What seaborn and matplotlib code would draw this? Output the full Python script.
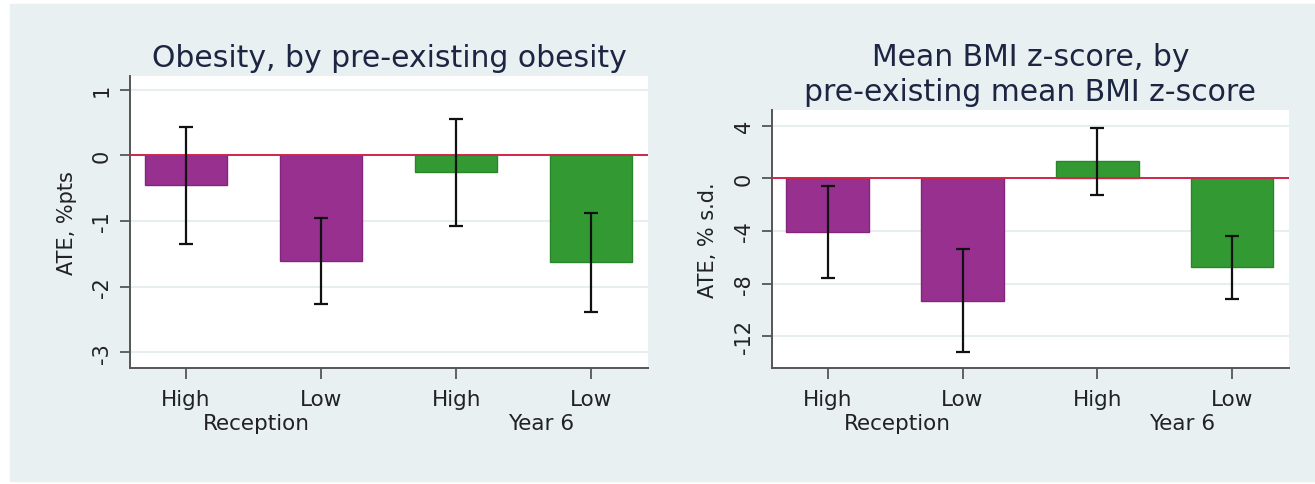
import pandas as pd
import numpy as np
import matplotlib
matplotlib.use("Agg")
import matplotlib.pyplot as plt
import seaborn as sns
from matplotlib.patches import Rectangle

#%% Datos
categorias = ["High", "Low", "High", "Low"]
grupos = ["Reception", "Year 6"]
colores = ["#97308f", "#97308f", "#339933", "#339933"]

# Obesidad (%pts)
obesidad = [-0.45, -1.61, -0.25, -1.63]
obesidad_lo = [-1.35, -2.26, -1.07, -2.39]
obesidad_hi = [0.43, -0.95, 0.55, -0.88]
obesidad_ticks = [1, 0, -1, -2, -3]

# Media BMI z-score (% s.d.)
bmi = [-4.1, -9.3, 1.32, -6.76]
bmi_lo = [-7.6, -13.2, -1.24, -9.14]
bmi_hi = [-0.55, -5.34, 3.87, -4.4]
bmi_ticks = [4, 0, -4, -8, -12]

titulo1 = "Obesity, by pre-existing obesity"
titulo2 = "Mean BMI z-score, by\npre-existing mean BMI z-score"
ylabel1 = "ATE, %pts"
ylabel2 = "ATE, % s.d."

fondo = "#e8f0f2"
texto = "#1c2541"

sns.set_style("white")
plt.rcParams['font.family'] = ['DejaVu Sans']


def panel(ax, valores, lo, hi, ticks, ylim, titulo, ylabel):
    df = pd.DataFrame({"pos": [0, 1, 2, 3], "valor": valores})
    sns.barplot(data=df, x="pos", y="valor", hue="pos", palette=colores,
                legend=False, width=0.61, ax=ax, errorbar=None, saturation=1,
                edgecolor="#7a2a75", linewidth=1, zorder=3)
    # los bordes de las barras verdes en un verde mas oscuro
    for i, p in enumerate(ax.patches):
        p.set_edgecolor("#82267c" if i < 2 else "#2a852a")

    v = np.array(valores)
    yerr = [v - np.array(lo), np.array(hi) - v]
    ax.errorbar(np.arange(4), v, yerr=yerr, fmt="none", ecolor="#111111",
                elinewidth=1.6, capsize=5, capthick=1.6, zorder=5)

    ax.axhline(0, color="#d2254a", lw=1.4, zorder=4)
    ax.set_facecolor("white")
    ax.set_ylim(ylim)
    ax.set_xlim(-0.415, 3.42)
    ax.set_yticks(ticks)
    ax.set_yticklabels([str(t) for t in ticks], rotation=90, va="center",
                       fontsize=15, color="#222222")
    ax.set_xticks(range(4))
    ax.set_xticklabels(categorias, fontsize=15.5, color="#222222")
    ax.tick_params(axis="x", length=8, width=1.3, color="#555555", pad=7,
                   direction="out", bottom=True)
    ax.tick_params(axis="y", length=7, width=1.3, color="#555555", pad=6,
                   direction="out", left=True)
    for t in ticks:
        ax.axhline(t, color="#e6eef0", lw=1.5, zorder=1)

    for s in ["top", "right"]:
        ax.spines[s].set_visible(False)
    for s in ["left", "bottom"]:
        ax.spines[s].set_color("#555555")
        ax.spines[s].set_linewidth(1.4)

    ax.set_xlabel("")
    ax.set_ylabel(ylabel, fontsize=15, color="#222222", labelpad=11)
    ax.set_title(titulo, fontsize=21.5, color=texto, pad=7, linespacing=1.27)

    # etiquetas de grupo debajo de las categorias
    for g, x in zip(grupos, [0.52, 2.63]):
        ax.annotate(g, xy=(x, 0), xycoords=("data", "axes fraction"),
                    xytext=(0, -39.5), textcoords="offset points",
                    ha="center", va="center", fontsize=15.5, color="#222222")


fig = plt.figure(figsize=(13.15, 4.85), dpi=100)
fig.patch.set_facecolor("white")
fig.patches.append(Rectangle((10 / 1315, 3 / 485), 1305 / 1315, 477 / 485,
                             transform=fig.transFigure, color=fondo,
                             zorder=-10))

ax1 = fig.add_axes([130 / 1315, 1 - 369 / 485, 518 / 1315, 292 / 485])
ax2 = fig.add_axes([771.6 / 1315, 1 - 369 / 485, 517.4 / 1315, 258 / 485])

panel(ax1, obesidad, obesidad_lo, obesidad_hi, obesidad_ticks,
      (-3.24, 1.21), titulo1, ylabel1)
panel(ax2, bmi, bmi_lo, bmi_hi, bmi_ticks, (-14.4, 5.2), titulo2, ylabel2)

fig.savefig("out.png", dpi=100, facecolor=fig.get_facecolor())
